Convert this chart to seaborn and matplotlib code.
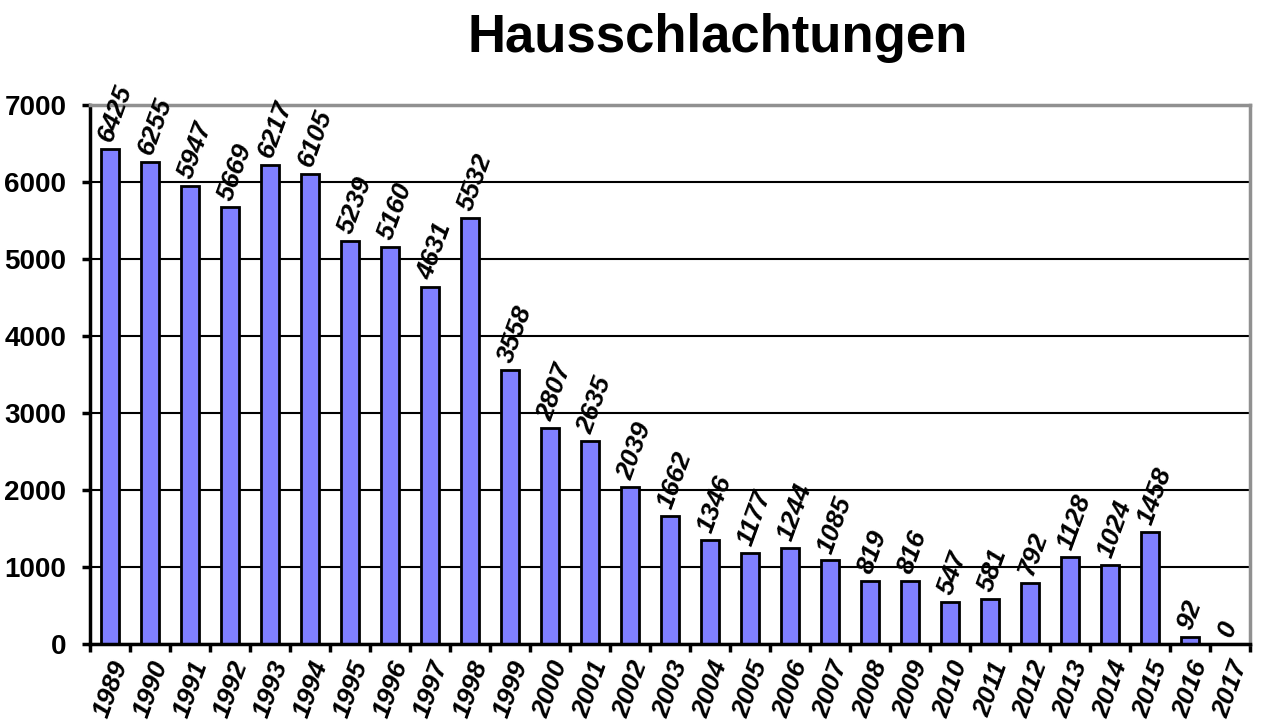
import numpy as np
import matplotlib
matplotlib.use("Agg")
import matplotlib.pyplot as plt
import pandas as pd
import seaborn as sns

# Données
annees = [str(a) for a in range(1989, 2018)]
schlachtungen = [6425, 6255, 5947, 5669, 6217, 6105, 5239, 5160, 4631, 5532,
                 3558, 2807, 2635, 2039, 1662, 1346, 1177, 1244, 1085, 819,
                 816, 547, 581, 792, 1128, 1024, 1458, 92, 0]

df = pd.DataFrame({"jahr": annees, "anzahl": schlachtungen})

sns.set_theme(style="white")
plt.rcParams['font.family'] = ['Liberation Sans', 'DejaVu Sans']
plt.rcParams['text.color'] = 'black'
plt.rcParams['xtick.color'] = 'black'
plt.rcParams['ytick.color'] = 'black'

fig = plt.figure(figsize=(12.63, 7.22), dpi=100)
ax = fig.add_axes([0.0713, 0.108, 0.9184, 0.7466])

sns.barplot(data=df, x="jahr", y="anzahl", color="#8080FF", saturation=1,
            width=0.45, edgecolor="black", linewidth=2, ax=ax)

# Étiquettes de valeurs
for i, v in enumerate(schlachtungen):
    ax.annotate(str(v), (i - 0.12, v), xytext=(0, 6), textcoords="offset points",
                rotation=70, rotation_mode="anchor", ha="left", va="center",
                fontsize=19, fontweight="bold", fontstyle="italic", color="black")

ax.set_ylim(0, 7000)
ax.set_xlim(-0.5, len(annees) - 0.5)
ax.set_yticks(range(0, 7001, 1000))
ax.set_yticklabels([str(t) for t in range(0, 7001, 1000)], fontsize=20, fontweight="bold")
ax.yaxis.grid(True, color="black", linewidth=1.5)
ax.set_axisbelow(True)

ax.set_xticks(np.arange(len(annees)))
ax.set_xticklabels(annees, rotation=70, fontsize=19, fontweight="bold",
                   fontstyle="italic", ha="right", rotation_mode="anchor")
ax.tick_params(axis="x", length=0, pad=10)
ax.set_xticks(np.arange(-0.5, len(annees), 1), minor=True)
ax.tick_params(axis="x", which="minor", length=6, width=2.5, color="black", bottom=True)
ax.tick_params(axis="y", length=6, width=2.5, color="black", left=True, pad=11)

ax.set_xlabel("")
ax.set_ylabel("")

for s in ["left", "bottom"]:
    ax.spines[s].set_color("black")
    ax.spines[s].set_linewidth(2.5)
for s in ["top", "right"]:
    ax.spines[s].set_color("#909090")
    ax.spines[s].set_linewidth(2.5)

fig.text(0.568, 0.948, "Hausschlachtungen", ha="center", va="center",
         fontsize=38, fontweight="bold", color="black")

fig.savefig("out.png", dpi=100)
